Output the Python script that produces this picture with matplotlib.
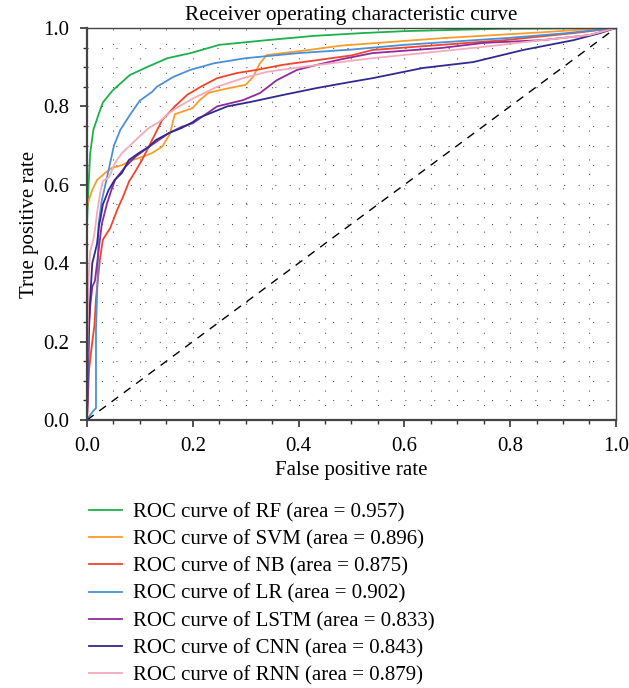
import numpy as np
import matplotlib
matplotlib.use("Agg")
import matplotlib.pyplot as plt
from matplotlib.ticker import MultipleLocator

plt.rcParams['font.family'] = ['Liberation Serif', 'DejaVu Serif']

# ROC curves (fpr, tpr)
rf_fpr = [0, 0, 0.003, 0.006, 0.012, 0.022, 0.03, 0.048, 0.081, 0.113, 0.152, 0.196, 0.25, 0.34, 0.43,
          0.52, 0.6, 0.78, 1]
rf_tpr = [0, 0.5, 0.6, 0.68, 0.74, 0.78, 0.81, 0.84, 0.88, 0.9, 0.923, 0.936, 0.957, 0.969, 0.98,
          0.987, 0.992, 0.998, 1]

svm_fpr = [0, 0, 0.002, 0.01, 0.019, 0.034, 0.047, 0.066, 0.085, 0.104, 0.123, 0.142, 0.157, 0.166, 0.2,
           0.213, 0.23, 0.27, 0.3, 0.314, 0.327, 0.34, 0.37, 0.42, 0.48, 0.67, 0.86, 0.98, 1]
svm_tpr = [0, 0.54, 0.555, 0.587, 0.612, 0.63, 0.643, 0.65, 0.663, 0.671, 0.681, 0.697, 0.73, 0.78, 0.796,
           0.816, 0.835, 0.847, 0.855, 0.875, 0.91, 0.931, 0.936, 0.944, 0.955, 0.974, 0.989, 1.0, 1]

nb_fpr = [0, 0.004, 0.01, 0.014, 0.017, 0.02, 0.025, 0.03, 0.044, 0.057, 0.068, 0.08, 0.085, 0.104, 0.123,
          0.142, 0.166, 0.19, 0.215, 0.246, 0.283, 0.32, 0.37, 0.435, 0.5, 0.54, 0.67, 0.79, 0.92, 1]
nb_tpr = [0, 0.13, 0.2, 0.24, 0.31, 0.35, 0.416, 0.46, 0.49, 0.536, 0.569, 0.61, 0.62, 0.663, 0.714,
          0.765, 0.8, 0.83, 0.85, 0.872, 0.885, 0.893, 0.906, 0.918, 0.93, 0.944, 0.957, 0.969, 0.987, 1]

lr_fpr = [0, 0.002, 0.013, 0.017, 0.017, 0.02, 0.022, 0.028, 0.038, 0.051, 0.063, 0.082, 0.1, 0.123,
          0.132, 0.163, 0.195, 0.24, 0.3, 0.4, 0.5, 0.6, 0.7, 0.8, 0.9, 1]
lr_tpr = [0, 0.005, 0.025, 0.03, 0.23, 0.36, 0.5, 0.56, 0.62, 0.7, 0.74, 0.78, 0.815, 0.837,
          0.85, 0.875, 0.893, 0.91, 0.923, 0.936, 0.945, 0.957, 0.966, 0.975, 0.986, 1]

lstm_fpr = [0, 0.002, 0.004, 0.006, 0.01, 0.015, 0.02, 0.028, 0.038, 0.047, 0.053, 0.057, 0.072, 0.091,
            0.109, 0.128, 0.155, 0.179, 0.2, 0.246, 0.295, 0.327, 0.359, 0.397, 0.435, 0.48, 0.54, 0.67,
            0.75, 0.86, 0.95, 1]
lstm_tpr = [0, 0.1, 0.24, 0.29, 0.34, 0.355, 0.41, 0.5, 0.553, 0.59, 0.612, 0.62, 0.645, 0.671,
            0.689, 0.707, 0.732, 0.748, 0.757, 0.8, 0.816, 0.834, 0.867, 0.893, 0.906, 0.92, 0.936, 0.949,
            0.962, 0.969, 0.982, 1]

cnn_fpr = [0, 0.002, 0.004, 0.006, 0.01, 0.013, 0.019, 0.023, 0.025, 0.03, 0.041, 0.052, 0.066, 0.079,
           0.098, 0.117, 0.13, 0.155, 0.179, 0.2, 0.21, 0.265, 0.308, 0.37, 0.435, 0.497, 0.54, 0.635,
           0.73, 0.825, 0.92, 0.97, 1]
cnn_tpr = [0, 0.15, 0.255, 0.31, 0.4, 0.416, 0.45, 0.5, 0.51, 0.55, 0.587, 0.612, 0.63, 0.663,
           0.681, 0.697, 0.714, 0.732, 0.745, 0.76, 0.77, 0.8, 0.811, 0.829, 0.847, 0.862, 0.872, 0.898,
           0.913, 0.944, 0.969, 0.987, 1]

rnn_fpr = [0, 0.001, 0.003, 0.006, 0.012, 0.015, 0.019, 0.025, 0.03, 0.042, 0.053, 0.066, 0.079, 0.098,
           0.117, 0.136, 0.155, 0.174, 0.2, 0.246, 0.295, 0.34, 0.403, 0.497, 0.54, 0.635, 0.75, 0.86,
           0.95, 1]
rnn_tpr = [0, 0.2, 0.36, 0.43, 0.46, 0.485, 0.528, 0.579, 0.61, 0.62, 0.656, 0.681, 0.697, 0.722,
           0.745, 0.76, 0.783, 0.8, 0.82, 0.85, 0.872, 0.888, 0.9, 0.916, 0.923, 0.936, 0.952, 0.969,
           0.982, 1]

models = ['RF', 'SVM', 'NB', 'LR', 'LSTM', 'CNN', 'RNN']
areas = [0.957, 0.896, 0.875, 0.902, 0.833, 0.843, 0.879]
curves = [(rf_fpr, rf_tpr), (svm_fpr, svm_tpr), (nb_fpr, nb_tpr), (lr_fpr, lr_tpr),
          (lstm_fpr, lstm_tpr), (cnn_fpr, cnn_tpr), (rnn_fpr, rnn_tpr)]
colors = ['#1db04b', '#f89d2a', '#f2442b', '#4a8fd8', '#8d2a9c', '#2f2a8e', '#f5a9ba']

fig = plt.figure(figsize=(6.29, 6.88), dpi=100)
ax = fig.add_axes([0.1383, 0.3895, 0.8408, 0.5698])

for name, area, (fpr, tpr), c in zip(models, areas, curves, colors):
    ax.plot(fpr, tpr, color=c, lw=1.3, label=f'ROC curve of {name} (area = {area:.3f})')

ax.plot([0, 1], [0, 1], color='black', lw=1.0, ls=(0, (6, 5)))

ax.set_xlim(0, 1)
ax.set_ylim(0, 1)
ax.xaxis.set_major_locator(MultipleLocator(0.2))
ax.yaxis.set_major_locator(MultipleLocator(0.2))
ax.xaxis.set_minor_locator(MultipleLocator(0.05))
ax.yaxis.set_minor_locator(MultipleLocator(0.05))
ax.grid(which='both', color='#555555', lw=0.8, ls=(0, (1, 12)))
ax.set_axisbelow(True)
ax.tick_params(which='major', direction='out', length=5, width=1.2, labelsize=15, color='#333333')
ax.tick_params(axis='x', which='major', pad=7)
ax.tick_params(axis='y', which='major', pad=8)
ax.tick_params(which='minor', direction='out', length=3, width=1.0, color='#333333')
for s in ['left', 'bottom']:
    ax.spines[s].set_linewidth(1.6)
    ax.spines[s].set_color('#444444')
for s in ['top', 'right']:
    ax.spines[s].set_linewidth(1.0)
    ax.spines[s].set_color('#444444')

ax.set_title('Receiver operating characteristic curve', fontsize=15.3, pad=6)
ax.set_xlabel('False positive rate', fontsize=15, labelpad=4)
ax.set_ylabel('True positive rate', fontsize=15, labelpad=3)

fig.legend(loc='upper left', bbox_to_anchor=(0.111, 0.297), frameon=False, fontsize=15,
           handlelength=1.6, handletextpad=0.55, labelspacing=0.37, borderpad=0.4)

fig.savefig('out.png', dpi=100)
